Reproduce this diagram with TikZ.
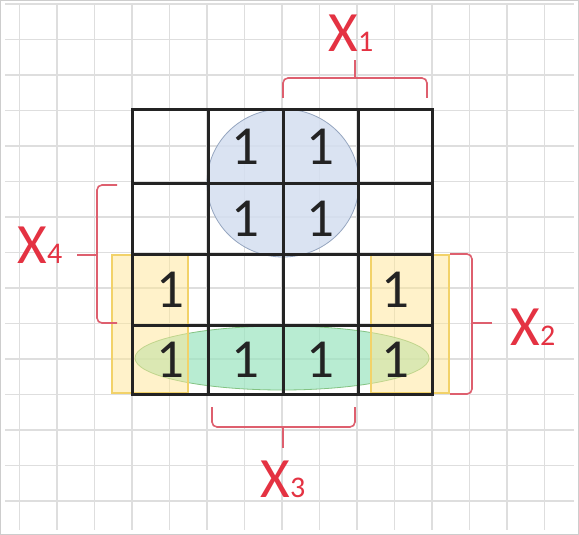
\documentclass[tikz,border=0pt]{standalone}
\usepackage{fontspec}
\setmainfont{Carlito}
\begin{document}
\begin{tikzpicture}[x=1pt,y=-1pt,
  bgline/.style={draw={rgb,255:red,222;green,222;blue,222},line width=1.6pt},
  kline/.style={draw={rgb,255:red,35;green,35;blue,35},line width=3pt,line cap=rect},
  one/.style={text={rgb,255:red,35;green,35;blue,35},font=\fontsize{55}{55}\selectfont,inner sep=0pt},
  brk/.style={draw={rgb,255:red,222;green,95;blue,110},line width=1.6pt,rounded corners=5pt},
  lbl/.style={text={rgb,255:red,228;green,50;blue,66},inner sep=0pt,anchor=base},
  yel/.style={fill={rgb,255:red,255;green,230;blue,150},fill opacity=0.5,draw={rgb,255:red,242;green,210;blue,105},line width=1.4pt}
]
\useasboundingbox (0,0) rectangle (579,535);
\fill[white] (0,0) rectangle (579,535);
% background grid
\foreach \i in {-3,...,11} {\draw[bgline] ({132+37.5*\i},5) -- ({132+37.5*\i},530);}
\foreach \j in {-3,...,12} {\draw[bgline] (5,{110.5+35.5*\j}) -- (574,{110.5+35.5*\j});}
\draw[draw={rgb,255:red,205;green,205;blue,205},line width=1pt] (0.5,0.5) rectangle (578.5,534.5);
% groups
\draw[fill={rgb,255:red,212;green,223;blue,240},fill opacity=0.85,draw={rgb,255:red,150;green,166;blue,192},line width=0.8pt]
  (283,183) ellipse [x radius=76pt, y radius=74pt];
\draw[fill={rgb,255:red,155;green,228;blue,192},fill opacity=0.7,draw={rgb,255:red,130;green,195;blue,130},line width=0.8pt]
  (282,358) ellipse [x radius=147pt, y radius=32pt];
\draw[yel] (112,255) rectangle (188,393);
\draw[yel] (371,255) rectangle (449,393);
% K-map grid
\foreach \x in {132,208,283,358,432} {\draw[kline] (\x,110) -- (\x,394);}
\foreach \y in {110,183,254,325,394} {\draw[kline] (132,\y) -- (432,\y);}
% ones
\node[one] (a12) at (245.5,147) {1};
\node[one] (a13) at (320.5,147) {1};
\node[one] (a22) at (245.5,219) {1};
\node[one] (a23) at (320.5,219) {1};
\node[one] (a31) at (170,290) {1};
\node[one] (a34) at (395,290) {1};
\node[one] (a41) at (170,360) {1};
\node[one] (a42) at (245.5,360) {1};
\node[one] (a43) at (320.5,360) {1};
\node[one] (a44) at (395,360) {1};
% brackets
\draw[brk] (283,98) -- (283,78) -- (427,78) -- (427,98);
\draw[brk] (355,78) -- (355,60);
\draw[brk] (117,185) -- (97,185) -- (97,323) -- (117,323);
\draw[brk] (97,255) -- (77,255);
\draw[brk] (450,254) -- (472,254) -- (472,394) -- (450,394);
\draw[brk] (472,323) -- (492,323);
\draw[brk] (212,407) -- (212,427) -- (355,427) -- (355,407);
\draw[brk] (283,427) -- (283,448);
% labels
\node[lbl] (x1) at (351,52) {\fontsize{57}{57}\selectfont X\fontsize{30}{30}\selectfont 1};
\node[lbl] (x4) at (40,263) {\fontsize{57}{57}\selectfont X\fontsize{30}{30}\selectfont 4};
\node[lbl] (x2) at (533,345) {\fontsize{57}{57}\selectfont X\fontsize{30}{30}\selectfont 2};
\node[lbl] (x3) at (283,497) {\fontsize{57}{57}\selectfont X\fontsize{30}{30}\selectfont 3};
\end{tikzpicture}
\end{document}
